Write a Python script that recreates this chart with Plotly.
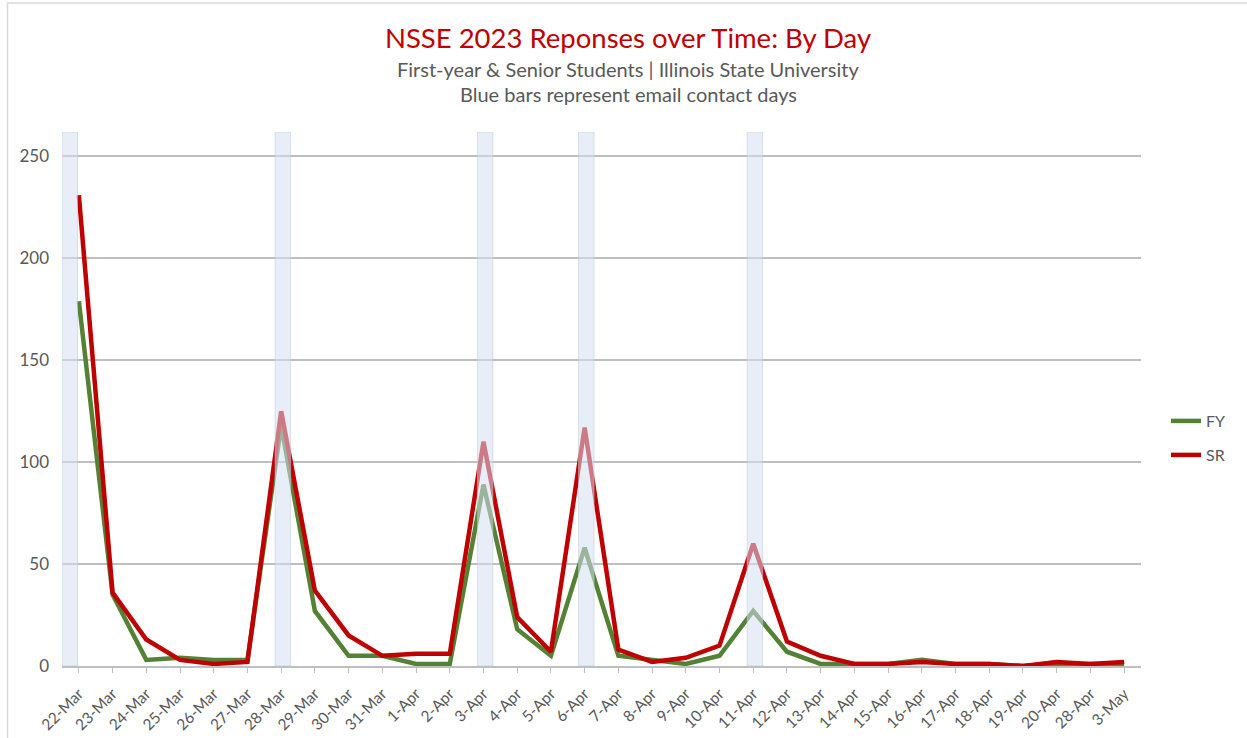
import plotly.graph_objects as go

days = ["22-Mar", "23-Mar", "24-Mar", "25-Mar", "26-Mar", "27-Mar", "28-Mar", "29-Mar",
        "30-Mar", "31-Mar", "1-Apr", "2-Apr", "3-Apr", "4-Apr", "5-Apr", "6-Apr",
        "7-Apr", "8-Apr", "9-Apr", "10-Apr", "11-Apr", "12-Apr", "13-Apr", "14-Apr",
        "15-Apr", "16-Apr", "17-Apr", "18-Apr", "19-Apr", "20-Apr", "28-Apr", "3-May"]
fy = [179, 35, 3, 4, 3, 3, 118, 27, 5, 5, 1, 1, 89, 18, 5, 58,
      5, 3, 1, 5, 27, 7, 1, 1, 1, 3, 1, 1, 0, 1, 1, 1]
sr = [231, 36, 13, 3, 1, 2, 125, 37, 15, 5, 6, 6, 110, 24, 7, 117,
      8, 2, 4, 10, 60, 12, 5, 1, 1, 2, 1, 1, 0, 2, 1, 2]
contact_days = ["22-Mar", "28-Mar", "3-Apr", "6-Apr", "11-Apr"]
contact = [1 if d in contact_days else None for d in days]

GRAY_TXT = "#595959"
FONT = "Lato, 'Open Sans', sans-serif"

# bar placement (style only): first band sits at the left edge of the plot
bar_offsets = [-0.5 if d == days[0] else -0.18 for d in days]

fig = go.Figure()
fig.add_trace(go.Scatter(x=days, y=fy, mode="lines", name="FY",
                         line=dict(color="#548235", width=4.5), legend="legend"))
fig.add_trace(go.Scatter(x=days, y=sr, mode="lines", name="SR",
                         line=dict(color="#C00000", width=4.5), legend="legend2"))
fig.add_trace(go.Bar(x=days, y=contact, yaxis="y2", width=0.46, offset=bar_offsets,
                     showlegend=False,
                     marker=dict(color="rgba(214,224,242,0.55)",
                                 line=dict(color="rgba(190,198,215,0.5)", width=1)),
                     hoverinfo="skip"))

fig.update_layout(
    width=1247, height=738,
    margin=dict(l=62, r=106, t=132, b=72),
    paper_bgcolor="white", plot_bgcolor="white",
    font=dict(family=FONT, color=GRAY_TXT),
    title=dict(text="NSSE 2023 Reponses over Time: By Day",
               font=dict(family=FONT, size=27.5, color="#C00000"),
               x=(628 / 1247), xanchor="center", y=1 - 38 / 738, yanchor="middle"),
    xaxis=dict(type="category", range=[-0.5, 31.5], showgrid=False, automargin=False,
               showline=True, linecolor="#BFBFBF", linewidth=1.5,
               ticks="outside", ticklen=5, tickcolor="#BFBFBF",
               ticklabelstandoff=6,
               tickangle=-45, tickfont=dict(size=15.5, color=GRAY_TXT)),
    yaxis=dict(range=[0, 262], tickvals=[0, 50, 100, 150, 200, 250], automargin=False,
               showgrid=True, gridcolor="#BFBFBF", gridwidth=1.5,
               zeroline=False, showline=False, ticks="",
               ticklabelstandoff=12,
               tickfont=dict(size=17, color=GRAY_TXT)),
    yaxis2=dict(overlaying="y", range=[0, 1], visible=False),
    legend=dict(x=(1166 - 62) / 1079, y=(666 - 421) / 534, xanchor="left", yanchor="middle",
                font=dict(size=16, color=GRAY_TXT), bgcolor="rgba(0,0,0,0)"),
    legend2=dict(x=(1166 - 62) / 1079, y=(666 - 455) / 534, xanchor="left", yanchor="middle",
                 font=dict(size=16, color=GRAY_TXT), bgcolor="rgba(0,0,0,0)"),
    showlegend=True,
    annotations=[
        dict(text="First-year & Senior Students | Illinois State University",
             xref="paper", yref="paper", x=(628 - 62) / 1079, y=(666 - 69) / 534,
             xanchor="center", yanchor="middle", showarrow=False,
             font=dict(family=FONT, size=20, color=GRAY_TXT)),
        dict(text="Blue bars represent email contact days",
             xref="paper", yref="paper", x=(628 - 62) / 1079, y=(666 - 94) / 534,
             xanchor="center", yanchor="middle", showarrow=False,
             font=dict(family=FONT, size=20, color=GRAY_TXT)),
    ],
    shapes=[dict(type="rect", xref="paper", yref="paper",
                 x0=(7.5 - 62) / 1079, x1=1.3, y0=-0.3, y1=(666 - 3) / 534,
                 line=dict(color="#D9D9D9", width=1.5), fillcolor="rgba(0,0,0,0)",
                 layer="below")],
)

fig.write_html("out.html", config={"displayModeBar": False},
               post_script="document.body.style.margin='0';")
